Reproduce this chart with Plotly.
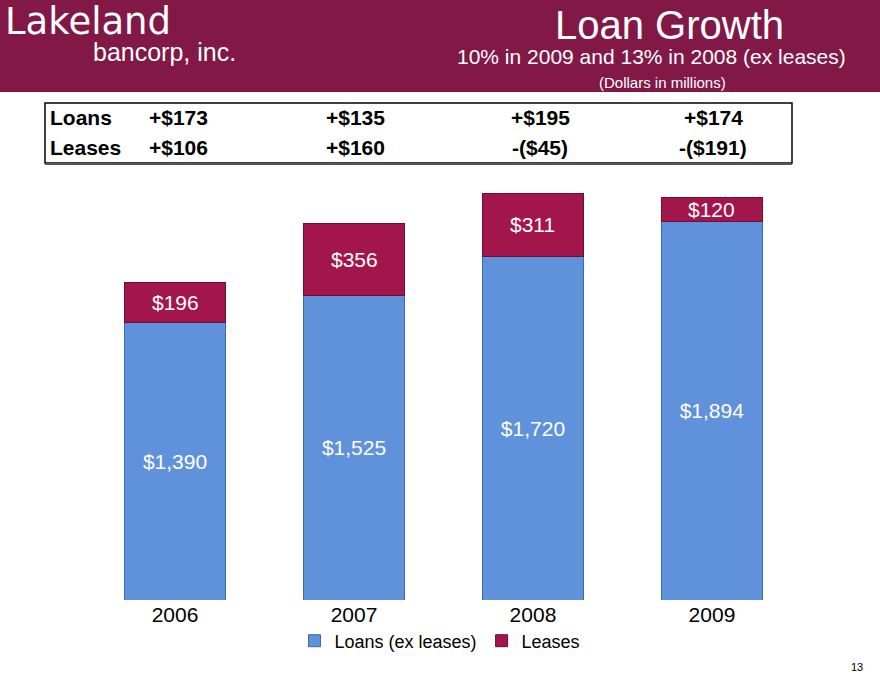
import plotly.graph_objects as go

# ---- data ----
years = ["2006", "2007", "2008", "2009"]
loans = [1390, 1525, 1720, 1894]
leases = [196, 356, 311, 120]
loan_chg = ["+$173", "+$135", "+$195", "+$174"]
lease_chg = ["+$106", "+$160", "-($45)", "-($191)"]

LOAN_COLOR = "#5F92DA"
LEASE_COLOR = "#A3164B"
BANNER = "#821846"

W, H = 880, 677
TOP, BOTTOM = 160, 600  # plot area in pixels


def px(x):
    return x / W


def py(y):
    return (BOTTOM - y) / (BOTTOM - TOP)


F = "Liberation Sans, Arial, sans-serif"
NARROW = "Liberation Sans Narrow, Arial Narrow, Liberation Sans, sans-serif"

fig = go.Figure()

fig.add_trace(go.Bar(
    x=years, y=loans, name="Loans (ex leases)",
    marker=dict(color=LOAN_COLOR, line=dict(color="#3F6AA8", width=1)),
    text=[f"${v:,}" for v in loans], textposition="inside",
    insidetextanchor="middle",
    textfont=dict(color="white", size=21, family=F),
    width=0.56,
))
fig.add_trace(go.Bar(
    x=years, y=leases, name="Leases",
    marker=dict(color=LEASE_COLOR, line=dict(color="#6E0E32", width=1)),
    textposition="none",
    width=0.56,
))

shapes = [
    # header banner
    dict(type="rect", xref="paper", yref="paper", x0=0, x1=1, y0=py(92), y1=py(0),
         fillcolor=BANNER, line=dict(width=0), layer="below"),
    # table frame
    dict(type="rect", xref="paper", yref="paper", x0=px(45), x1=px(792),
         y0=py(163), y1=py(103), line=dict(color="black", width=1.5)),
    dict(type="line", xref="paper", yref="paper", x0=px(45), x1=px(792),
         y0=py(164), y1=py(164), line=dict(color="#555555", width=2)),
]

ann = []


def text(x, y, s, size, color="white", xanchor="left", family=F):
    ann.append(dict(x=px(x), y=py(y), xref="paper", yref="paper", text=s,
                    showarrow=False, xanchor=xanchor, yanchor="middle",
                    font=dict(size=size, color=color, family=family)))


# lease value labels centred on each lease segment (category index on x)
for i, (lo, le) in enumerate(zip(loans, leases)):
    ann.append(dict(x=i, y=lo + le / 2, xref="x", yref="y", text=f"${le:,}",
                    showarrow=False, font=dict(size=21, color="white", family=F)))

# logo
text(3, 21, "Lakeland", 37, family="DejaVu Sans, Liberation Sans")
text(91, 52, "bancorp, inc.", 25)
# title block
text(669, 25, "Loan Growth", 40, xanchor="center")
text(651, 57, "10% in 2009 and 13% in 2008 (ex leases)", 21, xanchor="center")
text(662, 82, "(Dollars in millions)", 15, xanchor="center")

# table
text(48, 117, "<b>Loans</b>", 21, "black", family=NARROW)
text(48, 148, "<b>Leases</b>", 21, "black", family=NARROW)
col_x = [178, 355, 540, 713]
for cx, a, b in zip(col_x, loan_chg, lease_chg):
    text(cx, 117, f"<b>{a}</b>", 21, "black", "center", NARROW)
    text(cx, 148, f"<b>{b}</b>", 21, "black", "center", NARROW)

# page number
text(857, 667, "13", 11, "black", "center")

fig.update_layout(
    width=W, height=H,
    barmode="stack",
    plot_bgcolor="white", paper_bgcolor="white",
    margin=dict(l=0, r=0, t=TOP, b=H - BOTTOM, pad=0),
    xaxis=dict(type="category", range=[-0.978, 3.939], showgrid=False, zeroline=False,
               showline=False, ticks="", tickfont=dict(size=21, color="black", family=F)),
    yaxis=dict(range=[0, 2200], visible=False),
    showlegend=True,
    legend=dict(orientation="h", x=0.5, xanchor="center", y=py(641), yanchor="middle",
                font=dict(size=18, color="black", family=F), traceorder="normal"),
    shapes=shapes,
    annotations=ann,
)

fig.write_html("out.html", config={"displayModeBar": False},
               post_script="document.body.style.margin='0';")
